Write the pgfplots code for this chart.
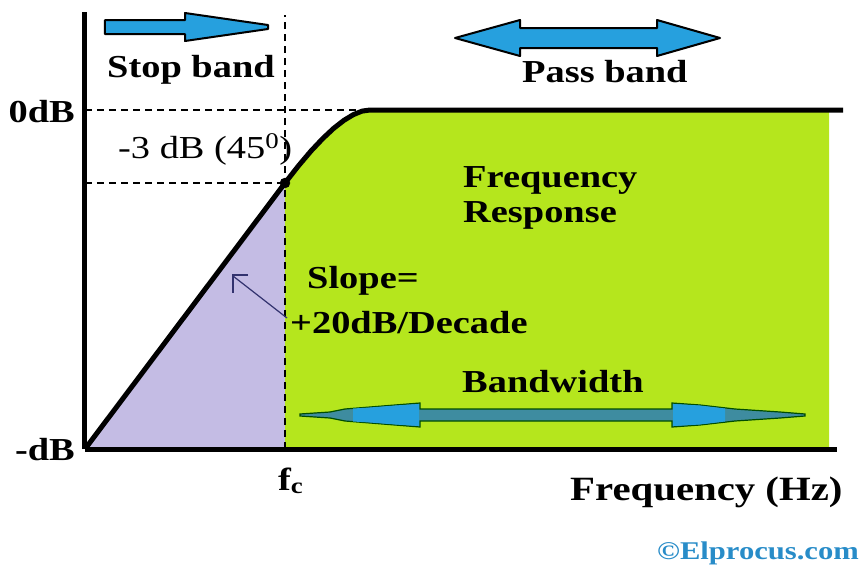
\documentclass[border=0pt]{standalone}
\usepackage{pgfplots}
\pgfplotsset{compat=1.18}
\usepackage{fontspec}
\setmainfont{Liberation Serif}
\newfontfamily\lab[FakeStretch=1.2]{Liberation Serif}
\definecolor{grn}{RGB}{181,230,29}
\definecolor{pur}{RGB}{196,188,228}
\definecolor{arrb}{RGB}{38,160,222}
\definecolor{arrt}{RGB}{62,140,160}
\definecolor{elp}{RGB}{40,140,200}
\definecolor{navy}{RGB}{50,50,110}
\tikzset{lbl/.style={font=\lab\bfseries\fontsize{32}{38}\selectfont, inner sep=0pt, anchor=base west}}
\begin{document}
\begin{tikzpicture}
\useasboundingbox (-85pt,-117pt) rectangle (774pt,449pt);
\begin{axis}[
  at={(0pt,0pt)}, anchor=south west,
  width=752pt, height=437pt, scale only axis,
  xmin=0, xmax=752, ymin=0, ymax=437,
  axis lines=left, axis line style={line width=5pt,-},
  ticks=none, clip=false, axis on top
]
% fills
\addplot[fill=pur, draw=none] coordinates {(0,0) (200,266) (200,0)} -- cycle;
\addplot[fill=grn, draw=none] coordinates {(200,0) (200,266) (213.4,283.1) (225.9,297.9) (237.8,310.5) (248.75,320.75) (259,328.7) (268.4,334.4) (277.1,337.9) (285,339) (744,339) (744,0)} -- cycle;
% dashed guides
\addplot[black, line width=1.3pt, dash pattern=on 7pt off 5pt] coordinates {(200,0) (200,434)};
\addplot[black, line width=1.3pt, dash pattern=on 7pt off 5pt] coordinates {(0,339) (282,339)};
\addplot[black, line width=1.3pt, dash pattern=on 7pt off 5pt] coordinates {(0,266) (200,266)};
% response curve
\addplot[black, line width=5pt, line join=round] coordinates {(0,0) (200,266) (213.4,283.1) (225.9,297.9) (237.8,310.5) (248.75,320.75) (259,328.7) (268.4,334.4) (277.1,337.9) (285,339) (758,339)};
\addplot[only marks, mark=*, mark size=5pt, black] coordinates {(200,266)};
% arrows
\filldraw[fill=arrb, draw=black, line width=2pt, line join=round] (axis cs:20,429) -- (axis cs:100,429) -- (axis cs:100,436) -- (axis cs:183,424) -- (axis cs:183,420) -- (axis cs:100,408) -- (axis cs:100,415) -- (axis cs:20,415) -- cycle;
\filldraw[fill=arrb, draw=black, line width=2pt, line join=round] (axis cs:370,411) -- (axis cs:435,429) -- (axis cs:435,421) -- (axis cs:572,421) -- (axis cs:572,429) -- (axis cs:635,411) -- (axis cs:572,393) -- (axis cs:572,401) -- (axis cs:435,401) -- (axis cs:435,393) -- cycle;
\filldraw[fill=arrt, draw=black!70!green, line width=1.2pt] (axis cs:215,35) -- (axis cs:245,37) -- (axis cs:260,40) -- (axis cs:285,42) -- (axis cs:310,44) -- (axis cs:335,46) -- (axis cs:335,40) -- (axis cs:587,40) -- (axis cs:587,46) -- (axis cs:615,44) -- (axis cs:650,40) -- (axis cs:695,37) -- (axis cs:720,35) -- (axis cs:720,33) -- (axis cs:695,31) -- (axis cs:650,28) -- (axis cs:615,24) -- (axis cs:587,22) -- (axis cs:587,28) -- (axis cs:335,28) -- (axis cs:335,22) -- (axis cs:310,24) -- (axis cs:285,26) -- (axis cs:260,28) -- (axis cs:245,31) -- (axis cs:215,33) -- cycle;
\fill[arrb] (axis cs:268,40.5) -- (axis cs:285,41.5) -- (axis cs:310,43.5) -- (axis cs:334,45) -- (axis cs:334,23) -- (axis cs:310,24.5) -- (axis cs:285,26.5) -- (axis cs:268,27.5) -- cycle;
\fill[arrb] (axis cs:640,40.5) -- (axis cs:615,43.5) -- (axis cs:588,45) -- (axis cs:588,23) -- (axis cs:615,24.5) -- (axis cs:640,27.5) -- cycle;
% slope pointer
\draw[navy, line width=1.2pt] (axis cs:202,131) -- (axis cs:148,173);
\draw[navy, line width=1.2pt] (axis cs:163,174) -- (axis cs:148,174) -- (axis cs:148,156);
% labels
\node[lbl] at (axis cs:22,372) {Stop band};
\node[lbl, anchor=base east] at (axis cs:-10,327) {0dB};
\node[lbl, font=\lab\fontsize{32}{38}\selectfont] at (axis cs:33,291) {-3 dB (45\textsuperscript{0})};
\node[lbl] at (axis cs:437,367) {Pass band};
\node[lbl] at (axis cs:378,262) {Frequency};
\node[lbl] at (axis cs:378,227) {Response};
\node[lbl] at (axis cs:222,161) {Slope=};
\node[lbl] at (axis cs:205,116) {+20dB/Decade};
\node[lbl] at (axis cs:377,57) {Bandwidth};
\node[lbl, anchor=base east] at (axis cs:-10,-11) {-dB};
\node[lbl] at (axis cs:193,-41) {f\textsubscript{c}};
\node[lbl, font=\lab\bfseries\fontsize{34}{40}\selectfont] at (axis cs:485,-51) {Frequency (Hz)};
\node[lbl, text=elp, font=\lab\bfseries\fontsize{25.5}{30}\selectfont] at (axis cs:572,-110) {\textcopyright Elprocus.com};
\end{axis}
\end{tikzpicture}
\end{document}
